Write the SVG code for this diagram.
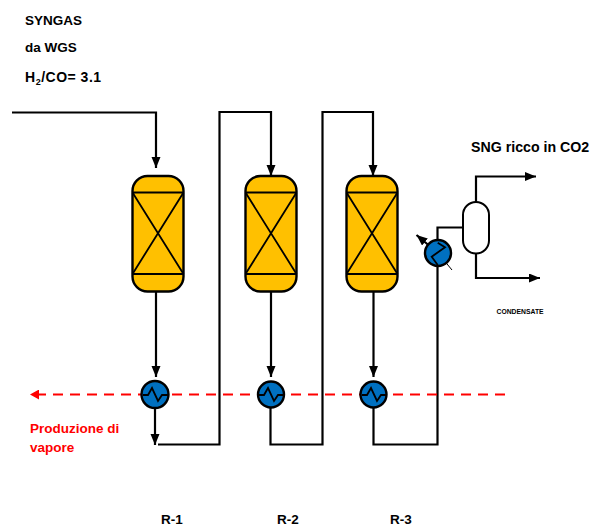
<svg xmlns="http://www.w3.org/2000/svg" width="590" height="526" viewBox="0 0 590 526">
<style>
text{font-family:"Liberation Sans",Arial,sans-serif;font-weight:700;fill:#000}
text.red{fill:#f00}
.l{fill:none;stroke:#000;stroke-width:2.2}
.v{fill:#ffc000;stroke:#000;stroke-width:2.4}
.i{fill:none;stroke:#000;stroke-width:1.8}
.h{fill:#0070c0;stroke:#000;stroke-width:2.4}
.z{fill:none;stroke:#000;stroke-width:1.8}
</style>
<defs>
<marker id="a" markerUnits="userSpaceOnUse" markerWidth="12" markerHeight="10" refX="11" refY="4.500" orient="auto"><path d="M0 0L11 4.500L0 9Z" fill="#000"/></marker>
<marker id="r" markerUnits="userSpaceOnUse" markerWidth="10" markerHeight="10" refX="9" refY="5" orient="auto"><path d="M0 0L9 5L0 10Z" fill="#f00"/></marker>
<g id="rx"><rect class="v" x="0" y="0" width="51" height="115.500" rx="15" ry="15"/><path class="i" d="M0 16.500H51M0 98H51M0 16.500L51 98M51 16.500L0 98"/></g>
</defs>
<g id="connectors">
<path class="l" d="M12 112.500H156V168" marker-end="url(#a)"/>
<path class="l" d="M156 291.500V377" marker-end="url(#a)"/>
<path class="l" d="M155 408V445" marker-end="url(#a)"/>
<path class="l" d="M158 444.500H219.500V112H271V176" marker-end="url(#a)"/>
<path class="l" d="M271 291.500V377" marker-end="url(#a)"/>
<path class="l" d="M270.500 408V444.500H322.500V112H373V176" marker-end="url(#a)"/>
<path class="l" d="M373.500 291.500V377" marker-end="url(#a)"/>
<path class="l" d="M373.500 408V444.500H437.500V227.500H463"/>
<path class="l" d="M476 202V176.500H536" marker-end="url(#a)"/>
<path class="l" d="M476 253V278H540" marker-end="url(#a)"/>
<path d="M505 394.500H30" fill="none" stroke="#f00" stroke-width="2" stroke-dasharray="10 7" marker-end="url(#r)"/>
<path d="M438 253L416.500 235" class="l" marker-end="url(#a)"/>
<path d="M438 253L452 270" fill="none" stroke="#000"/>
</g>
<g id="R-1-vessel"><use href="#rx" x="132.500" y="176"/></g>
<g id="R-2-vessel"><use href="#rx" x="245.500" y="176"/></g>
<g id="R-3-vessel"><use href="#rx" x="346.500" y="176"/></g>
<g id="hx-1"><circle class="h" cx="155" cy="394.500" r="13.500"/><path class="z" d="M143 395H148L152 388L158 401L162 395H168"/></g>
<g id="hx-2"><circle class="h" cx="271" cy="394.500" r="13"/><path class="z" d="M259 395H264L268 388L274 401L278 395H283"/></g>
<g id="hx-3"><circle class="h" cx="373.500" cy="394.500" r="13"/><path class="z" d="M362 395H367L371 388L377 401L381 395H386"/></g>
<g id="hx-4"><circle class="h" cx="438" cy="253" r="13"/><path class="z" d="M437.700 265L431.700 256.700L445 247.300L437.700 242.700"/></g>
<g id="separator"><rect x="463" y="202" width="26" height="51.500" rx="13" ry="13" fill="#fff" stroke="#000" stroke-width="2"/></g>
<g id="labels">
<text x="25" y="24.500" font-size="13.500">SYNGAS</text>
<text x="25" y="52" font-size="13.500">da WGS</text>
<text x="25" y="81.500" font-size="14" letter-spacing="0.500">H<tspan font-size="9" dy="3">2</tspan><tspan dy="-3">/CO= 3.1</tspan></text>
<text x="471" y="152" font-size="14.200">SNG ricco in CO2</text>
<text x="496.500" y="314" font-size="6.800">CONDENSATE</text>
<text class="red" x="30" y="433" font-size="13.500">Produzione di</text>
<text class="red" x="30" y="452" font-size="13.500">vapore</text>
<text x="161" y="524" font-size="13.500">R-1</text>
<text x="277" y="524" font-size="13.500">R-2</text>
<text x="390" y="524" font-size="13.500">R-3</text>
</g>
</svg>
